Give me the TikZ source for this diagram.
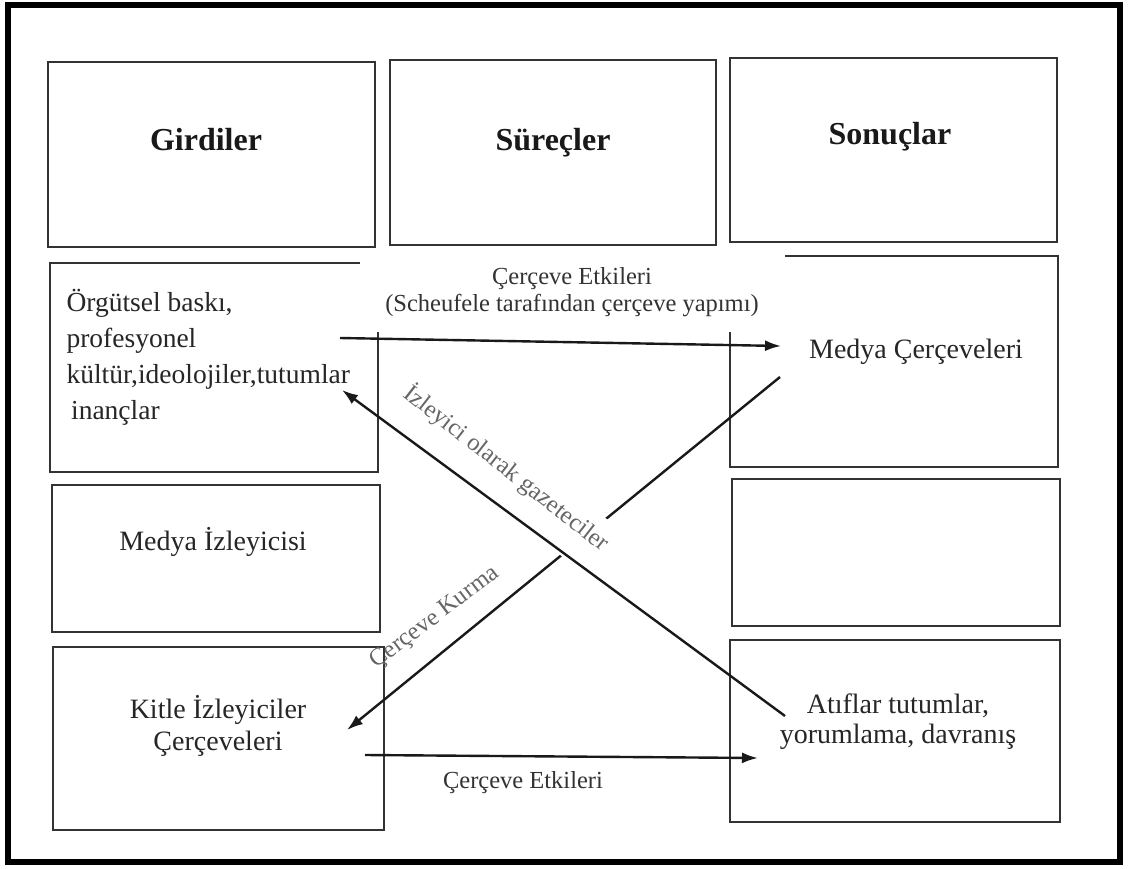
\documentclass[tikz,border=0pt]{standalone}
\usepackage{fontspec}
\setmainfont{Liberation Serif}
\usetikzlibrary{arrows.meta}
\begin{document}
\begin{tikzpicture}[x=1pt,y=-1pt,
  box/.style={draw=black!80, line width=1.8pt, rectangle, inner sep=0pt},
  txt/.style={font=\fontsize{28}{36}\selectfont, text=black!85},
  head/.style={font=\fontsize{32}{36}\selectfont\bfseries, text=black!90},
  lbl/.style={font=\fontsize{24.5}{27}\selectfont, text=black!80},
  rlbl/.style={font=\fontsize{24.5}{27}\selectfont, text=black!60},
  arr/.style={-{Latex[length=16pt,width=11pt]}, line width=2.4pt, draw=black!90}]
\useasboundingbox (0,0) rectangle (1128,869);
\fill[white] (0,0) rectangle (1128,869);
\draw[line width=6pt] (8,5) rectangle (1120,862);
% boxes
\node[box, minimum width=327pt, minimum height=185pt] (gbox) at (211.5,154.5) {};
\node[box, minimum width=326pt, minimum height=185pt] (sbox) at (553,152.5) {};
\node[box, minimum width=327pt, minimum height=184pt] (obox) at (893.5,150) {};
\node[box, minimum width=328pt, minimum height=209pt] (orgbox) at (214,367.5) {};
\node[box, minimum width=328pt, minimum height=211pt] (mcbox) at (894,361.5) {};
\node[box, minimum width=328pt, minimum height=147pt] (mibox) at (216,558.5) {};
\node[box, minimum width=328pt, minimum height=147pt] (ebox) at (896,552.5) {};
\node[box, minimum width=331pt, minimum height=183pt] (kbox) at (218.5,738.5) {};
\node[box, minimum width=330pt, minimum height=182pt] (abox) at (895,731) {};
% top label with white background
\node[lbl, fill=white, align=center, minimum width=425pt, minimum height=80pt, inner sep=0pt] (ltop) at (572,292) {Çerçeve Etkileri\\(Scheufele tarafından çerçeve yapımı)};
% arrow endpoints
\coordinate (a1s) at (340,338);
\coordinate (a1e) at (781,346);
\coordinate (a2s) at (365,755);
\coordinate (a2e) at (758,758);
\coordinate (a3s) at (785,716);
\coordinate (a3e) at (342,390);
\coordinate (a4s) at (780,377);
\coordinate (a4e) at (347,730);
\draw[arr] (a1s) -- (a1e);
\draw[arr] (a2s) -- (a2e);
\draw[arr] (a4s) -- (a4e);
\node[rlbl, fill=white, rotate=-38, anchor=base, text height=24pt, text depth=23pt, inner xsep=2pt, inner ysep=5pt] (l3) at (502,474) {İzleyici olarak gazeteciler};
\draw[arr] (a3s) -- (a3e);
\node[rlbl, rotate=37] (l4) at (435,618) {Çerçeve Kurma};
\node[lbl] (lbot) at (523,783) {Çerçeve Etkileri};
% texts
\node[head] (tg) at (206,140) {Girdiler};
\node[head] (ts) at (553,143) {Süreçler};
\node[head] (to) at (890,137) {Sonuçlar};
\node[txt, align=left, anchor=west, font=\fontsize{27.5}{36}\selectfont] (torg) at (63,357) {Örgütsel baskı,\\profesyonel\\kültür,ideolojiler,tutumlar\\\,inançlar};
\node[txt] (tmc) at (916,352) {Medya Çerçeveleri};
\node[txt] (tmi) at (213,542) {Medya İzleyicisi};
\node[txt, align=center, font=\fontsize{28}{32}\selectfont] (tk) at (218,726) {Kitle İzleyiciler\\Çerçeveleri};
\node[txt, align=center, font=\fontsize{28}{30}\selectfont] (ta) at (898,722) {Atıflar tutumlar,\\yorumlama, davranış};
\end{tikzpicture}
\end{document}
